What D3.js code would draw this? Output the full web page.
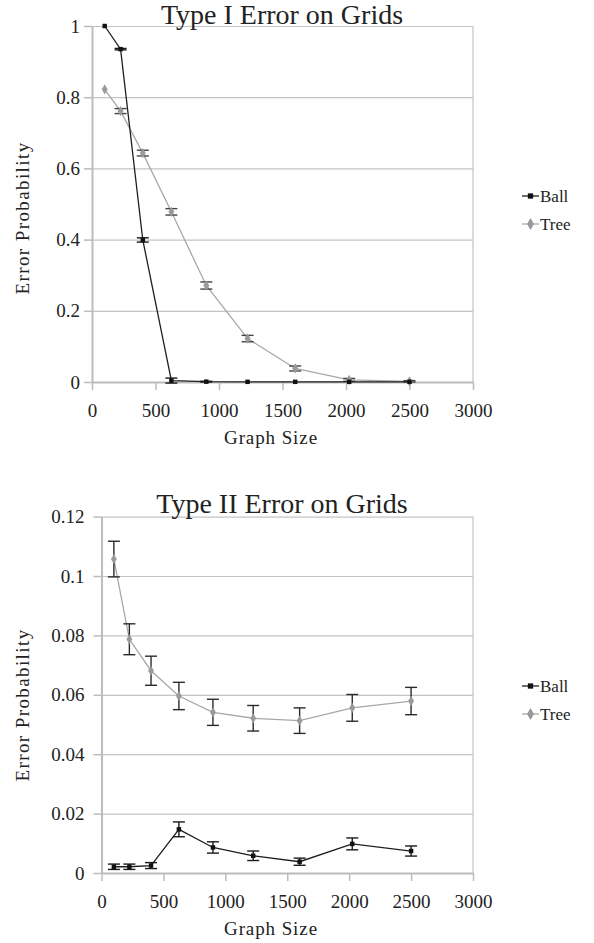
<!DOCTYPE html>
<html lang="en">
<head>
<meta charset="UTF-8">
<script src="https://d3js.org/d3.v7.min.js"></script>
<title>Type I / Type II Error on Grids</title>
<style>
    body { margin: 0; background: #ffffff; }
    svg { display: block; }
    text { font-family: 'Liberation Serif', 'Times New Roman', serif; fill: #222; }
</style>
</head>
<body>
<svg id="canvas" width="594" height="943"></svg>
<script>
// grid sizes (10x10 ... 50x50)
let sizes = [100, 225, 400, 625, 900, 1225, 1600, 2025, 2500]
let xTicks = [0, 500, 1000, 1500, 2000, 2500, 3000]

let type1Ball = [1, 0.935, 0.399, 0.004, 0.001, 0.0005, 0.0005, 0.0005, 0.0005]
let type1BallErr = [0, 0.002, 0.006, 0.007, 0.001, 0, 0, 0, 0]
let type1Tree = [0.822, 0.761, 0.643, 0.478, 0.271, 0.122, 0.038, 0.006, 0.002]
let type1TreeErr = [0, 0.007, 0.008, 0.009, 0.01, 0.009, 0.007, 0.004, 0.002]
let type1Ticks = [0, 0.2, 0.4, 0.6, 0.8, 1]

let type2Ball = [0.0021, 0.0021, 0.0025, 0.0147, 0.0086, 0.0058, 0.0038, 0.0098, 0.0074]
let type2BallErr = [0.0009, 0.0009, 0.001, 0.0025, 0.0019, 0.0016, 0.0012, 0.002, 0.0017]
let type2Tree = [0.1057, 0.0787, 0.0681, 0.0596, 0.0541, 0.0521, 0.0513, 0.0556, 0.0579]
let type2TreeErr = [0.006, 0.0052, 0.0049, 0.0046, 0.0044, 0.0043, 0.0043, 0.0045, 0.0046]
let type2Ticks = [0, 0.02, 0.04, 0.06, 0.08, 0.1, 0.12]

let canvas = d3.select('#canvas')
let plotRight = 473

let drawChart = (cfg) => {
    let g = canvas.append('g')
    let x = d3.scaleLinear().domain([0, 3000]).range([cfg.left, plotRight])
    let y = d3.scaleLinear().domain([0, cfg.yMax]).range([cfg.bottom, cfg.top])

    // horizontal gridlines
    g.append('g')
        .attr('transform', `translate(${cfg.left},0)`)
        .call(d3.axisLeft(y).tickValues(cfg.yTicks).tickSize(-(plotRight - cfg.left)).tickFormat(''))
        .call(a => a.select('.domain').remove())
        .selectAll('line').attr('stroke', '#c4c4c4').attr('stroke-width', 1.2)

    // right border
    g.append('line')
        .attr('x1', plotRight).attr('x2', plotRight)
        .attr('y1', cfg.top).attr('y2', cfg.bottom)
        .attr('stroke', '#c4c4c4').attr('stroke-width', 1.2)

    let yAxis = g.append('g')
        .attr('transform', `translate(${cfg.left},0)`)
        .call(d3.axisLeft(y).tickValues(cfg.yTicks).tickSize(8).tickSizeOuter(0)
            .tickPadding(cfg.yPad).tickFormat(d3.format('~g')))
    let xAxis = g.append('g')
        .attr('transform', `translate(0,${cfg.bottom})`)
        .call(d3.axisBottom(x).tickValues(xTicks).tickSize(8).tickSizeOuter(0)
            .tickPadding(14).tickFormat(d3.format('d')))
    for (let a of [yAxis, xAxis]) {
        a.attr('font-family', null).attr('font-size', null)
        a.select('.domain').attr('stroke', '#bcbcbc').attr('stroke-width', 2)
        a.selectAll('.tick line').attr('stroke', '#bcbcbc').attr('stroke-width', 1.5)
        a.selectAll('.tick text')
            .style('font-family', "'Liberation Serif', serif")
            .style('font-size', '19px').attr('fill', '#222')
    }

    let series = [
        {name: 'Tree', values: cfg.tree, err: cfg.treeErr, color: '#a8a8a8', marker: '#9a9a9a', barColor: cfg.treeBar, shape: d3.symbolDiamond, size: 30},
        {name: 'Ball', values: cfg.ball, err: cfg.ballErr, color: '#1e1e1e', marker: '#111', barColor: '#1a1a1a', shape: d3.symbolSquare, size: 20}
    ]

    series.forEach(s => {
        let pts = sizes.map((d, i) => ({x: d, v: s.values[i], e: s.err[i]}))

        g.append('path')
            .datum(pts)
            .attr('fill', 'none')
            .attr('stroke', s.color)
            .attr('stroke-width', 1.3)
            .attr('d', d3.line().x(d => x(d.x)).y(d => y(d.v)))

        let bars = g.append('g').selectAll('g')
            .data(pts.filter(d => d.e > 0))
            .enter().append('g')
            .attr('stroke', s.barColor).attr('stroke-width', 1.4)
        bars.append('line')
            .attr('x1', d => x(d.x)).attr('x2', d => x(d.x))
            .attr('y1', d => y(d.v - d.e)).attr('y2', d => y(d.v + d.e))
        bars.append('line')
            .attr('x1', d => x(d.x) - 6).attr('x2', d => x(d.x) + 6)
            .attr('y1', d => y(d.v + d.e)).attr('y2', d => y(d.v + d.e))
        bars.append('line')
            .attr('x1', d => x(d.x) - 6).attr('x2', d => x(d.x) + 6)
            .attr('y1', d => y(d.v - d.e)).attr('y2', d => y(d.v - d.e))

        g.append('g').selectAll('path')
            .data(pts)
            .enter().append('path')
            .attr('transform', d => `translate(${x(d.x)},${y(d.v)})`)
            .attr('d', d3.symbol().type(s.shape).size(s.size))
            .attr('fill', s.marker)
    })

    // titles
    g.append('text')
        .attr('x', 282).attr('y', cfg.titleY)
        .attr('text-anchor', 'middle')
        .style('font-size', '28px')
        .text(cfg.title)
    g.append('text')
        .attr('x', 271).attr('y', cfg.bottom + 62)
        .attr('text-anchor', 'middle')
        .style('font-size', '19px').style('letter-spacing', '0.9px')
        .text('Graph Size')
    g.append('text')
        .attr('transform', `translate(29,${cfg.yLabelY}) rotate(-90)`)
        .attr('text-anchor', 'middle')
        .style('font-size', '19px').style('letter-spacing', '1.4px')
        .text('Error Probability')

    // legend
    let legend = g.append('g').selectAll('g')
        .data(series.slice().reverse())
        .enter().append('g')
        .attr('transform', (d, i) => `translate(0,${cfg.legendY + i * 28})`)
    legend.append('line')
        .attr('x1', 522).attr('x2', 539)
        .attr('stroke', d => d.color).attr('stroke-width', 1.3)
    legend.append('path')
        .attr('transform', 'translate(530.5,0)')
        .attr('d', d => d3.symbol().type(d.shape).size(d.size * 1.4)())
        .attr('fill', d => d.marker)
    legend.append('text')
        .attr('x', 540).attr('y', 6)
        .style('font-size', '17px')
        .text(d => d.name)
}

drawChart({
    title: 'Type I Error on Grids', titleY: 24,
    left: 92, top: 26, bottom: 382, yMax: 1, yTicks: type1Ticks, yPad: 4,
    ball: type1Ball, ballErr: type1BallErr, tree: type1Tree, treeErr: type1TreeErr,
    treeBar: '#444', yLabelY: 218, legendY: 196
})

drawChart({
    title: 'Type II Error on Grids', titleY: 513,
    left: 101.5, top: 516.6, bottom: 873, yMax: 0.12, yTicks: type2Ticks, yPad: 9,
    ball: type2Ball, ballErr: type2BallErr, tree: type2Tree, treeErr: type2TreeErr,
    treeBar: '#2a2a2a', yLabelY: 705, legendY: 686
})
</script>
</body>
</html>
